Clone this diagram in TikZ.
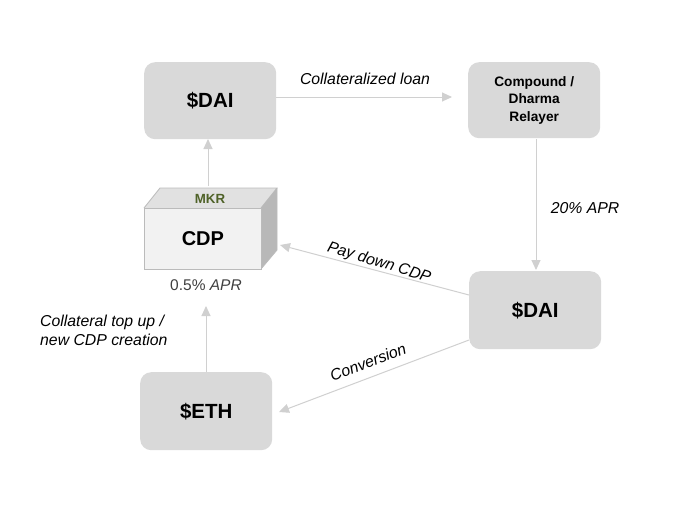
\documentclass[tikz,border=0pt]{standalone}
\usepackage{fontspec}
\setmainfont{Liberation Sans}
\usetikzlibrary{arrows.meta}
\definecolor{boxgray}{HTML}{D9D9D9}
\definecolor{linegray}{HTML}{D0D0D0}
\definecolor{mkrgreen}{HTML}{4F6228}
\definecolor{txtgray}{HTML}{404040}
\begin{document}
\begin{tikzpicture}[x=1pt,y=-1pt,
  rbox/.style={fill=boxgray,draw=none,rounded corners=11pt,minimum width=132pt,minimum height=77pt,anchor=north west,inner sep=0pt},
  bigtxt/.style={font=\bfseries\fontsize{20.5}{24}\selectfont},
  conn/.style={draw=linegray,line width=1pt,-{Triangle[length=10pt,width=9pt,fill=linegray]}},
  lbl/.style={font=\itshape\fontsize{15.8}{18.5}\selectfont,inner sep=0pt}]
\useasboundingbox[fill=white] (0,0) rectangle (687,509);
% boxes
\node[rbox,bigtxt] (dai1) at (144,62) {\$DAI};
\node[rbox,align=center,font=\bfseries\fontsize{13.7}{17.5}\selectfont,minimum height=76pt] (comp) at (468,62) {Compound /\\Dharma\\Relayer};
\node[rbox,bigtxt,minimum height=78pt] (dai2) at (469,271) {\$DAI};
\node[rbox,bigtxt,minimum height=78pt] (eth) at (140,372) {\$ETH};
% CDP cube
\fill[boxgray!80] (144,208) -- (160,188) -- (277,188) -- (261,208) -- cycle;
\draw[draw=linegray!90!black,line width=0.8pt] (144,208) -- (160,188) -- (277,188) -- (261,208);
\fill[boxgray!85!black] (261,208) -- (277,188) -- (277,250) -- (261,269) -- cycle;
\draw[draw=linegray!90!black,line width=0.8pt] (277,188) -- (277,250) -- (261,269);
\node[fill=black!5,draw=linegray!90!black,line width=0.8pt,minimum width=117pt,minimum height=61pt,anchor=north west,inner sep=0pt,font=\bfseries\fontsize{20}{24}\selectfont] (cdp) at (144,208) {CDP};
\node[font=\bfseries\fontsize{13.3}{15}\selectfont,text=mkrgreen,inner sep=0pt] (mkr) at (210,199) {MKR};
\node[inner sep=0pt,font=\fontsize{15.5}{18}\selectfont,text=txtgray] (apr) at (206,285) {0.5\% \textit{APR}};
% coordinates
\coordinate (a1s) at (276,97);
\coordinate (a1e) at (452,97);
\coordinate (a2s) at (536,139);
\coordinate (a2e) at (536,270);
\coordinate (a3s) at (208,186);
\coordinate (a3e) at (208,139);
\coordinate (a4s) at (469,295);
\coordinate (a4e) at (280,245);
\coordinate (a5s) at (469,340);
\coordinate (a5e) at (279,412);
\coordinate (a6s) at (206,372);
\coordinate (a6e) at (206,306);
% connectors
\draw[conn] (a1s) -- (a1e);
\draw[conn] (a2s) -- (a2e);
\draw[conn] (a3s) -- (a3e);
\draw[conn] (a4s) -- (a4e);
\draw[conn] (a5s) -- (a5e);
\draw[conn] (a6s) -- (a6e);
% labels
\node[lbl] (l1) at (365,79) {Collateralized loan};
\node[lbl] (l2) at (585,208) {20\% APR};
\node[lbl,rotate=-17] (l3) at (379,263) {Pay down CDP};
\node[lbl,rotate=21] (l4) at (368,362) {Conversion};
\node[lbl,align=left,anchor=north west] (l5) at (40,315) {Collateral top up /\\new CDP creation};
\end{tikzpicture}
\end{document}
